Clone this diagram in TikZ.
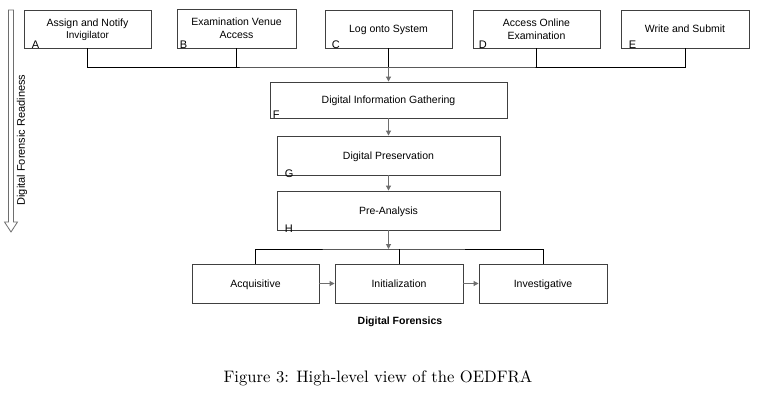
\documentclass[tikz,border=0pt]{standalone}
\usepackage{fontspec}
\setmainfont{Latin Modern Roman}
\newfontfamily\capfont{lmroman10-regular}[Extension=.otf]
\newfontfamily\arialf{Liberation Sans}
\usetikzlibrary{arrows.meta}
\definecolor{boxline}{HTML}{404040}
\definecolor{arrgray}{HTML}{6E6E6E}
\begin{document}
\begin{tikzpicture}[x=1pt,y=-1pt,
  stagebox/.style={draw=boxline,line width=0.9pt,rectangle,inner sep=0pt,align=center,text depth=0pt,
     font=\arialf\fontsize{10.5}{13}\selectfont},
  letterlbl/.style={inner sep=0pt,anchor=base west,font=\arialf\fontsize{11}{13}\selectfont},
  busline/.style={draw=black,line width=0.9pt},
  flowarrow/.style={draw=arrgray,line width=1pt,-{Triangle[length=5pt,width=5pt]},arrgray}
]
\useasboundingbox (0,0) rectangle (757,400);
\fill[white] (0,0) rectangle (757,400);

% top row
\node[stagebox,minimum width=127pt,minimum height=38pt] (A) at (87.5,29) {Assign and Notify\\[-1pt]{\fontsize{10}{12}\selectfont Invigilator}};
\node[stagebox,minimum width=119pt,minimum height=39pt] (B) at (236.5,28.5) {Examination Venue\\Access};
\node[stagebox,minimum width=127pt,minimum height=38pt] (C) at (388.5,29) {Log onto System};
\node[stagebox,minimum width=127pt,minimum height=38pt] (D) at (536.5,29) {Access Online\\Examination};
\node[stagebox,minimum width=128pt,minimum height=38pt] (E) at (685,29) {Write and Submit};

% middle column
\node[stagebox,minimum width=237pt,minimum height=36pt] (F) at (388.5,100) {Digital Information Gathering};
\node[stagebox,minimum width=223pt,minimum height=39pt] (G) at (388.5,155.5) {Digital Preservation};
\node[stagebox,minimum width=223pt,minimum height=39pt] (H) at (388.5,210.5) {Pre-Analysis};

% bottom row
\node[stagebox,minimum width=127pt,minimum height=39pt] (Acq) at (255.5,283.5) {Acquisitive};
\node[stagebox,minimum width=128pt,minimum height=39pt] (Ini) at (399,283.5) {Initialization};
\node[stagebox,minimum width=128pt,minimum height=39pt] (Inv) at (543,283.5) {Investigative};

% letters
\node[letterlbl] (la) at ([xshift=8pt,yshift=-0.5pt]A.south west) {A};
\node[letterlbl] (lb) at ([xshift=3pt,yshift=-0.5pt]B.south west) {B};
\node[letterlbl] (lc) at ([xshift=7pt,yshift=-0.5pt]C.south west) {C};
\node[letterlbl] (ld) at ([xshift=6pt,yshift=-0.5pt]D.south west) {D};
\node[letterlbl] (le) at ([xshift=8pt,yshift=-0.5pt]E.south west) {E};
\node[letterlbl] (lf) at ([xshift=3pt,yshift=-0.5pt]F.south west) {F};
\node[letterlbl] (lg) at ([xshift=8pt,yshift=-2pt]G.south west) {G};
\node[letterlbl] (lh) at ([xshift=8pt,yshift=-2pt]H.south west) {H};

% top bus
\coordinate (bus) at (388.5,67);
\draw[busline] (A.south) |- (bus) -| (E.south);
\draw[busline] (B.south) -- (B.south |- bus);
\draw[busline] (D.south) -- (D.south |- bus);
\draw[busline] (C.south) -- (bus);
\draw[flowarrow] (bus) -- (F.north);
\draw[flowarrow] (F.south) -- (G.north);
\draw[flowarrow] (G.south) -- (H.north);

% bottom bus
\coordinate (bus2) at (388.5,249);
\draw[flowarrow] (H.south) -- (bus2);
\draw[busline] (Acq.north) |- (bus2) -| (Inv.north);
\draw[busline] (Ini.north) -- (Ini.north |- bus2);
\draw[flowarrow] (Acq.east) -- (Ini.west);
\draw[flowarrow] (Ini.east) -- (Inv.west);

\node[font=\arialf\bfseries\fontsize{10.5}{13}\selectfont] (df) at (400,322) {Digital Forensics};

% readiness arrow
\draw[draw=arrgray,fill=white,line width=0.8pt,line join=miter]
  (8.5,10) -- (13.5,10) -- (13.5,222) -- (17.5,222) -- (11,232) -- (4.5,222) -- (8.5,222) -- cycle;
\node[rotate=90,font=\arialf\fontsize{11}{13}\selectfont] (dfr) at (22,140) {Digital Forensic Readiness};

% caption
\node[font=\capfont\fontsize{16.6}{20}\selectfont] (cap) at (378,378) {Figure 3: High-level view of the OEDFRA};
\end{tikzpicture}
\end{document}
